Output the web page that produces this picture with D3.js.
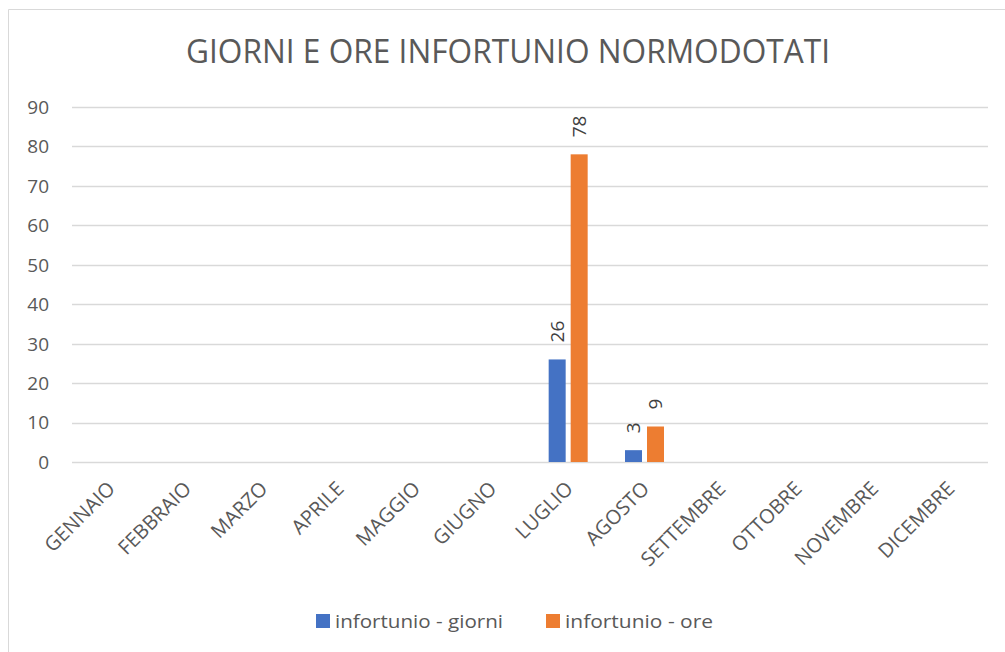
<!DOCTYPE html>
<html>
<head>
<meta charset="utf-8">
<script src="https://cdn.jsdelivr.net/npm/d3@7"></script>
<style>
  body { margin: 0; background: #fff; }
  svg { display: block; font-family: "Open Sans", sans-serif; }
</style>
</head>
<body>
<div id="chart"></div>
<script>
(function () {

    const months = ['GENNAIO', 'FEBBRAIO', 'MARZO', 'APRILE', 'MAGGIO', 'GIUGNO',
        'LUGLIO', 'AGOSTO', 'SETTEMBRE', 'OTTOBRE', 'NOVEMBRE', 'DICEMBRE'];
    const giorni = [null, null, null, null, null, null, 26, 3, null, null, null, null];
    const ore = [null, null, null, null, null, null, 78, 9, null, null, null, null];
    const seriesNames = ['infortunio - giorni', 'infortunio - ore'];
    const yTicks = [0, 10, 20, 30, 40, 50, 60, 70, 80, 90];
    const colors = ['#4472C4', '#ED7D31'];

    const width = 1005;
    const height = 652;

    const svg = d3.select('#chart')
        .append('svg')
        .attr('width', width)
        .attr('height', height);

    // chart frame (only left + top visible in the crop)
    svg.append('path')
        .attr('d', `M8.5,${height} V9.5 H${width}`)
        .attr('fill', 'none')
        .attr('stroke', '#d9d9d9')
        .attr('stroke-width', 1);

    svg.append('text')
        .attr('x', 508)
        .attr('y', 63)
        .attr('text-anchor', 'middle')
        .attr('font-size', 32)
        .attr('fill', '#595959')
        .attr('textLength', 644)
        .attr('lengthAdjust', 'spacingAndGlyphs')
        .text('GIORNI E ORE INFORTUNIO NORMODOTATI');

    const x = d3.scaleBand().domain(months).range([72, 988]);
    const xInner = d3.scaleBand().domain([0, 1]).range([-19.5, 19.5]).paddingInner(5 / 22);
    const y = d3.scaleLinear().domain([0, 90]).range([462, 107]);

    // gridlines
    svg.append('g')
        .selectAll('line')
        .data(yTicks)
        .join('line')
        .attr('x1', 72)
        .attr('x2', 988)
        .attr('y1', d => Math.round(y(d)) + 0.5)
        .attr('y2', d => Math.round(y(d)) + 0.5)
        .attr('stroke', '#d9d9d9')
        .attr('stroke-width', 1.3);

    // y tick labels
    svg.append('g')
        .selectAll('text')
        .data(yTicks)
        .join('text')
        .attr('x', 49)
        .attr('y', d => y(d))
        .attr('dy', '0.36em')
        .attr('text-anchor', 'end')
        .attr('font-size', 19)
        .attr('fill', '#595959')
        .text(d => d);

    // x labels, rotated
    svg.append('g')
        .selectAll('text')
        .data(months)
        .join('text')
        .attr('transform', d => `translate(${x(d) + x.bandwidth() / 2 + 6},${490}) rotate(-45)`)
        .attr('text-anchor', 'end')
        .attr('font-size', 20)
        .attr('fill', '#595959')
        .text(d => d);

    // bars
    const series = [giorni, ore];
    const bars = [];
    series.forEach((vals, s) => {
        vals.forEach((v, i) => {
            if (v !== null) bars.push({ s, month: months[i], value: v });
        });
    });

    const barX = d => x(d.month) + x.bandwidth() / 2 + xInner(d.s);

    svg.append('g')
        .selectAll('rect')
        .data(bars)
        .join('rect')
        .attr('x', barX)
        .attr('width', xInner.bandwidth())
        .attr('y', d => y(d.value))
        .attr('height', d => y(0) - y(d.value))
        .attr('fill', d => colors[d.s]);

    // data labels
    svg.append('g')
        .selectAll('text')
        .data(bars)
        .join('text')
        .attr('transform', d => `translate(${barX(d) + xInner.bandwidth() / 2},${y(d.value) - 17}) rotate(-90)`)
        .attr('dy', '0.36em')
        .attr('text-anchor', 'start')
        .attr('font-size', 19)
        .attr('fill', '#404040')
        .text(d => d.value);

    // legend
    const legendX = [316, 546];
    const legendW = [168, 148];
    const legend = svg.append('g')
        .selectAll('g')
        .data(seriesNames)
        .join('g')
        .attr('transform', (d, i) => `translate(${legendX[i]},614)`);

    legend.append('rect')
        .attr('width', 14)
        .attr('height', 14)
        .attr('fill', (d, i) => colors[i]);

    legend.append('text')
        .attr('x', 19)
        .attr('y', 7)
        .attr('dy', '0.36em')
        .attr('font-size', 19)
        .attr('fill', '#595959')
        .attr('textLength', (d, i) => legendW[i])
        .attr('lengthAdjust', 'spacingAndGlyphs')
        .text(d => d);
})();
</script>
</body>
</html>
